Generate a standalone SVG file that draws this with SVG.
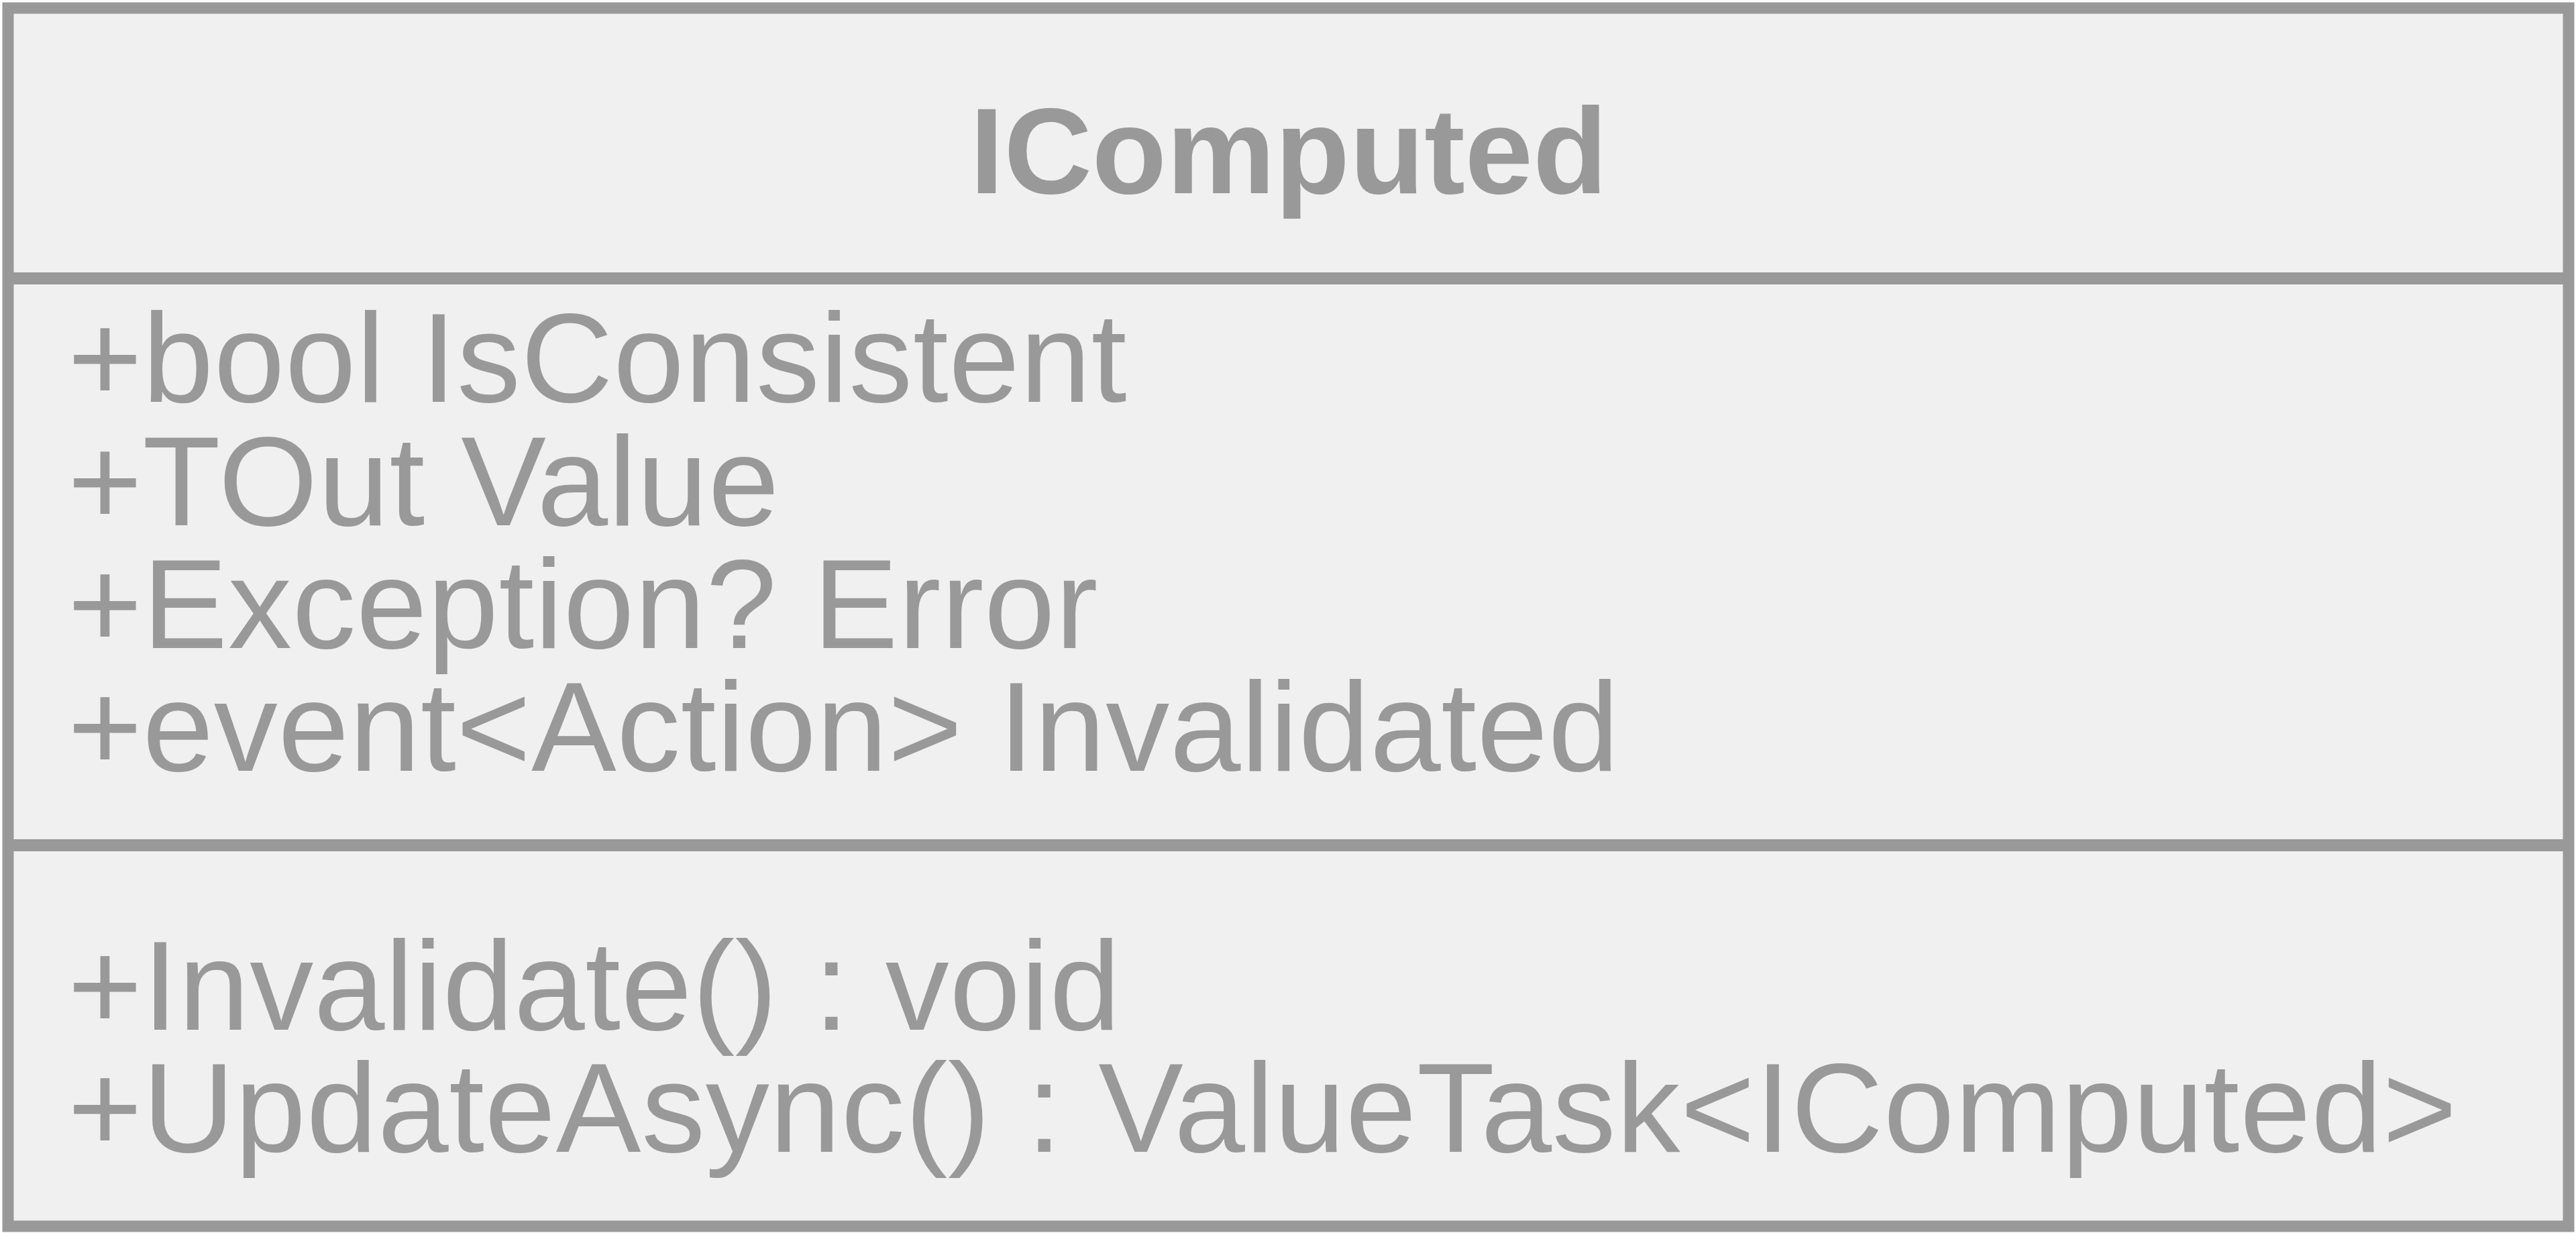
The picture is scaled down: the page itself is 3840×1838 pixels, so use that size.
<svg xmlns="http://www.w3.org/2000/svg" width="3840" height="1838" viewBox="0 0 3840 1838">
  <style>
    .box { fill: #f0f0f0; stroke: #999999; stroke-width: 17; }
    .sep { stroke: #999999; stroke-width: 18; fill: none; }
    .title { font-family: "Liberation Sans", Arial, sans-serif; font-weight: bold; font-size: 182px; fill: #999999; }
    .member { font-family: "Liberation Sans", Arial, sans-serif; font-size: 190px; letter-spacing: 0.6px; fill: #999999; }
  </style>
  <rect x="0" y="0" width="3840" height="1838" fill="#ffffff"/>
  <g id="node-IComputed">
    <rect class="box" x="12" y="12" width="3817" height="1816"/>
    <line class="sep" x1="12" y1="415" x2="3829" y2="415"/>
    <line class="sep" x1="12" y1="1260" x2="3829" y2="1260"/>
    <text class="title" x="1921" y="288" text-anchor="middle">IComputed</text>
    <text class="member" x="101" y="599">+bool IsConsistent</text>
    <text class="member" x="101" y="783">+TOut Value</text>
    <text class="member" x="101" y="966">+Exception? Error</text>
    <text class="member" x="101" y="1149">+event&lt;Action&gt; Invalidated</text>
    <text class="member" x="101" y="1535">+Invalidate() : void</text>
    <text class="member" x="101" y="1717">+UpdateAsync() : ValueTask&lt;IComputed&gt;</text>
  </g>
  <g id="connectors"/>
</svg>
